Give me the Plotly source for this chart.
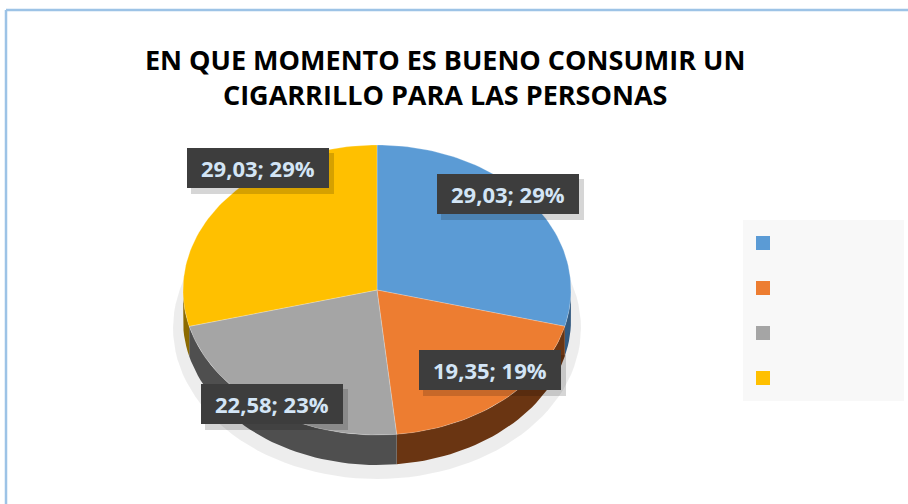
import math
import plotly.graph_objects as go

# ---- data ----
categories = ["Cat 1", "Cat 2", "Cat 3", "Cat 4"]
values = [29.03, 19.35, 22.58, 29.03]
colors = ["#5B9BD5", "#ED7D31", "#A5A5A5", "#FFC000"]
side_colors = ["#335A80", "#6A3512", "#4F4F4F", "#8C6A00"]
title_text = "EN QUE MOMENTO ES BUENO CONSUMIR UN<br>CIGARRILLO PARA LAS PERSONAS"

# ---- geometry (pixel-like coordinate system) ----
W, H = 908, 504
cx, cy, rx, ry, depth = 377, 290, 194, 145, 30


def pt(theta_deg, dy=0.0):
    t = math.radians(theta_deg)
    return cx + rx * math.sin(t), cy - ry * math.cos(t) + dy


total = sum(values)
angles = []
acc = 0.0
for v in values:
    a0 = acc / total * 360
    acc += v
    a1 = acc / total * 360
    angles.append((a0, a1))

fig = go.Figure()

# soft shadow under the pie
xs, ys = [], []
for k in range(0, 361, 3):
    t = math.radians(k)
    xs.append(cx + (rx + 10) * math.sin(t))
    ys.append(cy + depth + 8 - (ry + 6) * math.cos(t))
fig.add_trace(go.Scatter(x=xs, y=ys, fill="toself", mode="lines",
                         line=dict(width=0), fillcolor="rgba(0,0,0,0.07)",
                         hoverinfo="skip", showlegend=False))

# side walls (front half only: 90..270 deg)
for (a0, a1), sc in zip(angles, side_colors):
    s0, s1 = max(a0, 90), min(a1, 270)
    if s1 <= s0:
        continue
    n = max(2, int((s1 - s0) / 2) + 1)
    top = [pt(s0 + (s1 - s0) * i / (n - 1)) for i in range(n)]
    bot = [pt(s0 + (s1 - s0) * i / (n - 1), depth) for i in range(n)][::-1]
    poly = top + bot + [top[0]]
    fig.add_trace(go.Scatter(x=[p[0] for p in poly], y=[p[1] for p in poly],
                             fill="toself", mode="lines", line=dict(width=0),
                             fillcolor=sc, hoverinfo="skip", showlegend=False))

# top faces
for (a0, a1), c, name, v in zip(angles, colors, categories, values):
    n = max(2, int((a1 - a0) / 1.5) + 1)
    arc = [pt(a0 + (a1 - a0) * i / (n - 1)) for i in range(n)]
    poly = [(cx, cy)] + arc + [(cx, cy)]
    fig.add_trace(go.Scatter(x=[p[0] for p in poly], y=[p[1] for p in poly],
                             fill="toself", mode="lines", line=dict(width=0.6, color="rgba(255,255,255,0.4)"),
                             fillcolor=c, name=name, hoverinfo="name", showlegend=False))

# legend-like markers (no labels)
leg_y = [243, 288, 333, 378]
fig.add_shape(type="rect", x0=743, x1=904, y0=220, y1=401,
              fillcolor="#F8F8F8", line=dict(width=0), layer="below")
fig.add_trace(go.Scatter(x=[763] * len(values), y=leg_y, mode="markers",
                         marker=dict(symbol="square", size=14, color=colors),
                         hoverinfo="skip", showlegend=False))

# data labels
label_pos = [(508, 194), (490, 370), (272, 404), (258, 168)]
box_w, box_h = 142, 40
for v, (lx, ly) in zip(values, label_pos):
    pct = round(v / total * 100)
    txt = f"{v:.2f}".replace(".", ",") + f"; {pct}%"
    # soft shadow box
    fig.add_shape(type="rect", x0=lx - box_w / 2 + 4, x1=lx + box_w / 2 + 5,
                  y0=ly - box_h / 2 + 5, y1=ly + box_h / 2 + 6,
                  fillcolor="rgba(0,0,0,0.16)", line=dict(width=0))
    fig.add_shape(type="rect", x0=lx - box_w / 2, x1=lx + box_w / 2,
                  y0=ly - box_h / 2, y1=ly + box_h / 2,
                  fillcolor="#3D3D3D", line=dict(width=0))
    fig.add_annotation(x=lx, y=ly, text=f"<b>{txt}</b>", showarrow=False,
                       font=dict(family="Open Sans", size=22, color="#D3E5F6"))

# outer border
fig.add_shape(type="line", x0=6, x1=W, y0=10, y1=10, line=dict(color="#9DC3E6", width=2.5))
fig.add_shape(type="line", x0=6, x1=6, y0=10, y1=H, line=dict(color="#9DC3E6", width=2.5))

fig.add_annotation(x=445, y=77, text=f"<b>{title_text}</b>", showarrow=False,
                   font=dict(family="Open Sans", size=27, color="#000000"),
                   align="center")

fig.update_layout(
    width=W, height=H, margin=dict(l=0, r=0, t=0, b=0),
    paper_bgcolor="#FFFFFF", plot_bgcolor="#FFFFFF",
    xaxis=dict(range=[0, W], visible=False, fixedrange=True),
    yaxis=dict(range=[H, 0], visible=False, fixedrange=True),
    showlegend=False,
)

fig.write_html("out.html", config={"displayModeBar": False},
               post_script="document.body.style.margin='0';")
